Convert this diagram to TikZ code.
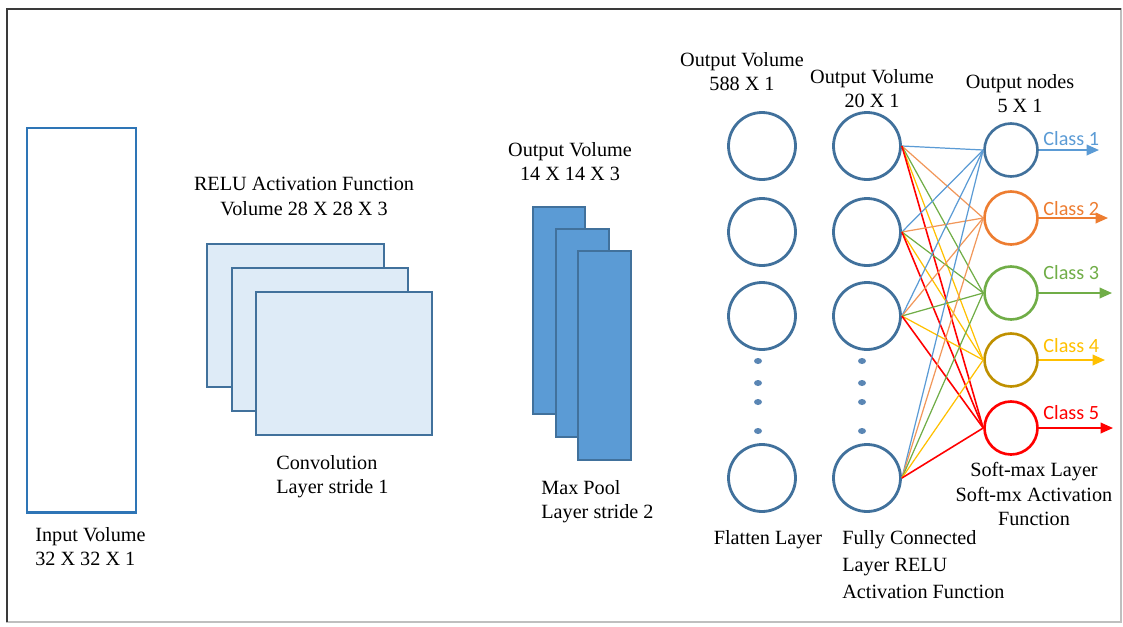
\documentclass[tikz,border=0pt]{standalone}
\usepackage{fontspec}
\setmainfont{Liberation Serif}
\newfontfamily\classfont{Carlito}
\usetikzlibrary{positioning,arrows.meta}
\definecolor{framegray}{HTML}{3A3A3A}
\definecolor{inputblue}{HTML}{2E75B6}
\definecolor{mapborder}{HTML}{41719C}
\definecolor{convfill}{HTML}{DEEBF7}
\definecolor{poolfill}{HTML}{5B9BD5}
\definecolor{nodeblue}{HTML}{41719C}
\definecolor{dotblue}{HTML}{5A86B4}
\definecolor{classone}{HTML}{5B9BD5}
\definecolor{classtwo}{HTML}{ED7D31}
\definecolor{classthree}{HTML}{70AD47}
\definecolor{classfour}{HTML}{FFC000}
\definecolor{classfourdark}{HTML}{BF9000}
\definecolor{classfive}{HTML}{FF0000}

\begin{document}
\begin{tikzpicture}[x=0.02cm,y=-0.02cm,
    every node/.style={inner sep=0pt,font=\fontsize{11.5}{14}\selectfont},
    neuron/.style={circle,draw=nodeblue,line width=1.6pt,minimum size=1.34cm},
    outneuron/.style={circle,line width=1.5pt,minimum size=1.06cm},
    link/.style={line width=0.7pt},
    classarrow/.style={line width=1pt,-{Triangle[length=7pt,width=6pt]}},
    classlabel/.style={font=\classfont\fontsize{11.5}{14}\selectfont,anchor=south west}]

    % frame
    \useasboundingbox (0,0) rectangle (1123,626);
    \draw[black!25,line width=0.8pt](7,9) rectangle (1121,622);
    \draw[framegray,line width=1.6pt](7,622) -- (7,9) -- (1121,9);

    % input volume
    \draw[inputblue,line width=1.7pt](27,128) rectangle (136,512);
    \node[align=left,anchor=north west] (inputlbl) at (35,527) {Input Volume\\32 X 32 X 1};

    % convolution maps
    \draw[mapborder,fill=convfill,line width=0.8pt](207,244) rectangle (384,387);
    \draw[mapborder,fill=convfill,line width=0.8pt](232,268) rectangle (408,411);
    \draw[mapborder,fill=convfill,line width=0.8pt](256,292) rectangle (432,435);
    \node[align=center,anchor=north] (relulbl) at (304,177) {RELU Activation Function\\Volume 28 X 28 X 3};
    \node[align=left,anchor=north west] (convlbl) at (276,455) {Convolution\\Layer stride 1};

    % max pool maps
    \draw[mapborder,fill=poolfill,line width=0.8pt](533,207) rectangle (585,414);
    \draw[mapborder,fill=poolfill,line width=0.8pt](556,229) rectangle (609,437);
    \draw[mapborder,fill=poolfill,line width=0.8pt](578,251) rectangle (631,460);
    \node[align=center,anchor=north] (poolout) at (570,142) {Output Volume\\14 X 14 X 3};
    \node[align=left,anchor=north west] (poollbl) at (541,480) {Max Pool\\Layer stride 2};

    % flatten layer
    \node[neuron] (flat1) at (762,146) {};
    \node[neuron] (flat2) at (762,232) {};
    \node[neuron] (flat3) at (762,316) {};
    \node[neuron] (flat4) at (762,478) {};
    \fill[dotblue](758,361) ellipse (4 and 3);
    \fill[dotblue](758,383) ellipse (4 and 3);
    \fill[dotblue](758,402) ellipse (4 and 3);
    \fill[dotblue](758,431) ellipse (4 and 3);
    \node[align=center,anchor=north] (flatout) at (742,52) {Output Volume\\588 X 1};
    \node[anchor=north] (flatlbl) at (768,530) {Flatten Layer};

    % fully connected layer
    \node[neuron] (fc1) at (867,146) {};
    \node[neuron] (fc2) at (867,232) {};
    \node[neuron] (fc3) at (867,316) {};
    \node[neuron] (fc4) at (867,478) {};
    \fill[dotblue](862,361) ellipse (4 and 3);
    \fill[dotblue](862,383) ellipse (4 and 3);
    \fill[dotblue](862,402) ellipse (4 and 3);
    \fill[dotblue](862,431) ellipse (4 and 3);
    \node[align=center,anchor=north] (fcout) at (872,69) {Output Volume\\20 X 1};
    \node[align=left,anchor=north west,font=\fontsize{11.5}{15.3}\selectfont] (fclbl) at (842,530) {Fully Connected\\Layer RELU\\Activation Function};

    % output nodes
    \node[outneuron,draw=nodeblue] (out1) at (1011,150) {};
    \node[outneuron,draw=classtwo] (out2) at (1011,218) {};
    \node[outneuron,draw=classthree] (out3) at (1011,293) {};
    \node[outneuron,draw=classfourdark] (out4) at (1011,360) {};
    \node[outneuron,draw=classfive] (out5) at (1011,428) {};
    \node[align=center,anchor=north] (outnodes) at (1020,74) {Output nodes\\5 X 1};
    \node[align=center,anchor=north] (softlbl) at (1034,462) {Soft-max Layer\\Soft-mx Activation\\Function};

    % fully connected links
    \foreach \h in {1,...,4}{
        \draw[link,classone](fc\h.east) -- (out1.west);
        \draw[link,classtwo!80](fc\h.east) -- (out2.west);
        \draw[link,classthree](fc\h.east) -- (out3.west);
        \draw[link,classfour](fc\h.east) -- (out4.west);
        \draw[link,classfive,line width=0.9pt](fc\h.east) -- (out5.west);
    }

    % class outputs
    \coordinate (end1) at (1099,150);
    \coordinate (end2) at (1108,218);
    \coordinate (end3) at (1112,293);
    \coordinate (end4) at (1105,360);
    \coordinate (end5) at (1113,428);
    \draw[classarrow,classone](out1.east) -- (end1);
    \draw[classarrow,classtwo](out2.east) -- (end2);
    \draw[classarrow,classthree](out3.east) -- (end3);
    \draw[classarrow,classfour](out4.east) -- (end4);
    \draw[classarrow,classfive](out5.east) -- (end5);
    \node[classlabel,text=classone] (cls1) at (1043,146) {Class 1};
    \node[classlabel,text=classtwo] (cls2) at (1043,216) {Class 2};
    \node[classlabel,text=classthree] (cls3) at (1043,280) {Class 3};
    \node[classlabel,text=classfour] (cls4) at (1043,353) {Class 4};
    \node[classlabel,text=classfive] (cls5) at (1043,420) {Class 5};
\end{tikzpicture}
\end{document}
